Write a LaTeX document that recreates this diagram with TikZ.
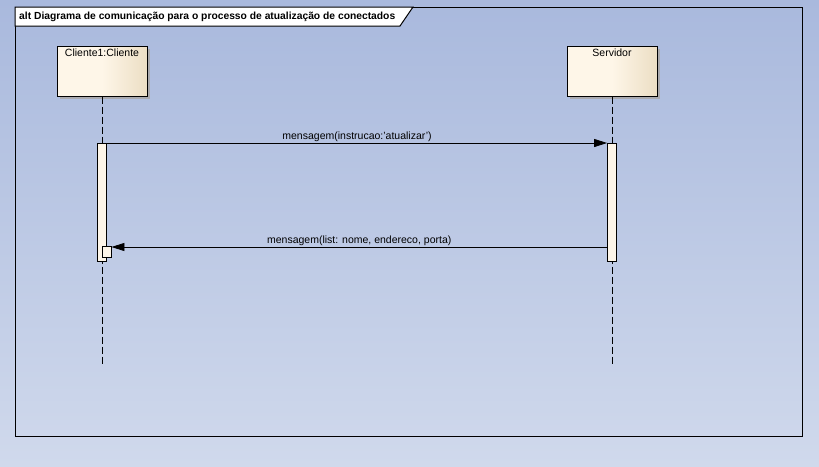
\documentclass[tikz,border=0pt]{standalone}
\usepackage{fontspec}
\setmainfont{Liberation Sans}
\usetikzlibrary{arrows.meta}
\definecolor{bgtop}{RGB}{169,185,221}
\definecolor{bgbot}{RGB}{208,217,236}
\definecolor{boxl}{RGB}{254,246,232}
\definecolor{boxr}{RGB}{236,222,196}
\definecolor{actfill}{RGB}{253,245,232}
\definecolor{shadowc}{RGB}{170,170,175}
\begin{document}
\begin{tikzpicture}[x=1pt,y=-1pt,
  lifebox/.style={draw=black,line width=1pt,left color=boxl,right color=boxr,middle color=boxl,minimum width=90pt,minimum height=50pt,inner sep=0pt},
  actbox/.style={draw=black,line width=0.8pt,fill=actfill},
  lifeline/.style={draw=black,line width=0.8pt,dash pattern=on 7pt off 3pt},
  msg/.style={draw=black,line width=0.8pt,-{Triangle[length=13pt,width=8pt]}},
  lbl/.style={font=\fontsize{10.5}{12}\selectfont,inner sep=1pt}
]
\useasboundingbox (0,0) rectangle (819,466);
\shade[top color=bgtop,bottom color=bgbot] (0,0) rectangle (819,466);
% frame
\draw[line width=1pt] (15,7) rectangle (802,436);
\draw[line width=1pt,fill=white] (15,7) -- (413,7) -- (400,26) -- (15,26) -- cycle;
\node[font=\bfseries\fontsize{10.3}{12}\selectfont,anchor=west,inner sep=0pt] (title) at (19,16.5) {alt Diagrama de comunicação para o processo de atualização de conectados};
% shadows
\fill[shadowc] (60,49) rectangle (150,99);
\fill[shadowc] (570,49) rectangle (660,99);
% lifeline heads
\node[lifebox] (cli) at (102,71) {};
\node[lbl,anchor=north] (clit) at (102,48) {Cliente1:Cliente};
\node[lifebox] (srv) at (612,71) {};
\node[lbl,anchor=north] (srvt) at (612,48) {Servidor};
\coordinate (cliend) at (102,364);
\coordinate (srvend) at (612,364);
\draw[lifeline] (cli.south) -- (cliend);
\draw[lifeline] (srv.south) -- (srvend);
% activations
\node[actbox,minimum width=9pt,minimum height=118pt,inner sep=0pt] (cact) at (102,202) {};
\node[actbox,minimum width=9pt,minimum height=118pt,inner sep=0pt] (sact) at (612,202) {};
\node[actbox,minimum width=9pt,minimum height=11pt,inner sep=0pt] (rbox) at (106.5,251.5) {};
% messages
\coordinate (m1s) at (cact.east |- 0,143);
\coordinate (m1e) at (sact.west |- 0,143);
\draw[msg] (m1s) -- node[lbl,above=0pt] (l1) {mensagem(instrucao:'atualizar')} (m1e);
\coordinate (m2s) at (sact.west |- 0,247);
\coordinate (m2e) at (rbox.east |- 0,247);
\draw[msg] (m2s) -- node[lbl,above=0pt] (l2) {mensagem(list: nome, endereco, porta)} (m2e);
\end{tikzpicture}
\end{document}
